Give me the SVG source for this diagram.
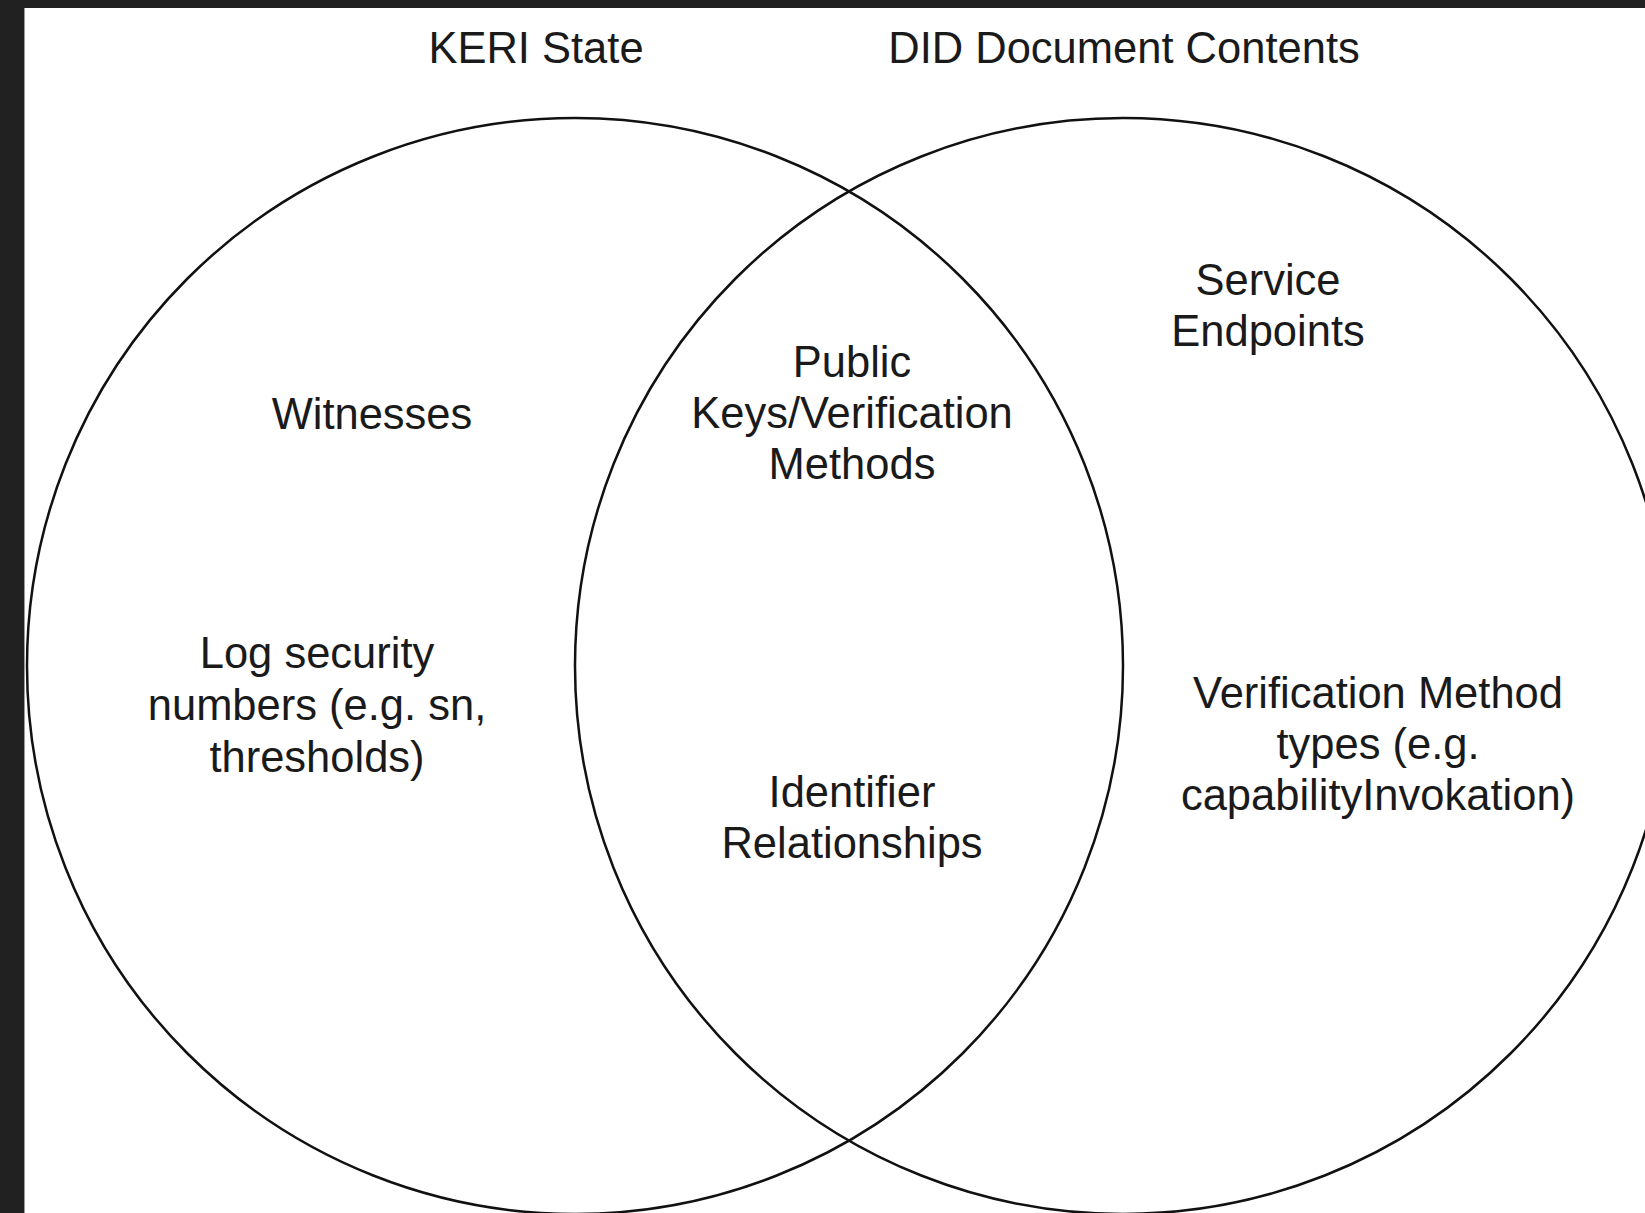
<svg xmlns="http://www.w3.org/2000/svg" width="1645" height="1213" viewBox="0 0 1645 1213">
<style>
.c{fill:none;stroke:#111;stroke-width:2.5}
.t{font-family:"Liberation Sans",Arial,sans-serif;font-size:43.5px;fill:#1a1a1a;text-anchor:middle}
</style>
<rect x="0" y="0" width="1645" height="1213" fill="#212121"/>
<rect x="24" y="8" width="1621" height="1205" fill="#ffffff"/>
<line x1="24.5" y1="8" x2="24.5" y2="1213" stroke="#9a9a9a" stroke-width="1"/>
<g id="keri-state">
<circle class="c" cx="575" cy="666" r="548"/>
</g>
<g id="did-document">
<circle class="c" cx="1123" cy="666" r="548"/>
</g>
<g id="connectors"></g>
<g id="labels">
<text class="t" x="536" y="63">KERI State</text>
<text class="t" x="1124" y="63">DID Document Contents</text>
<text class="t" x="372" y="429">Witnesses</text>
<text class="t" x="317"><tspan x="317" y="668">Log security</tspan><tspan x="317" y="720">numbers (e.g. sn,</tspan><tspan x="317" y="772">thresholds)</tspan></text>
<text class="t" x="852"><tspan x="852" y="377">Public</tspan><tspan x="852" y="428">Keys/Verification</tspan><tspan x="852" y="479">Methods</tspan></text>
<text class="t" x="1268"><tspan x="1268" y="295">Service</tspan><tspan x="1268" y="346">Endpoints</tspan></text>
<text class="t" x="852"><tspan x="852" y="807">Identifier</tspan><tspan x="852" y="858">Relationships</tspan></text>
<text class="t" x="1378"><tspan x="1378" y="708">Verification Method</tspan><tspan x="1378" y="759">types (e.g.</tspan><tspan x="1378" y="810">capabilityInvokation)</tspan></text>
</g>
</svg>
